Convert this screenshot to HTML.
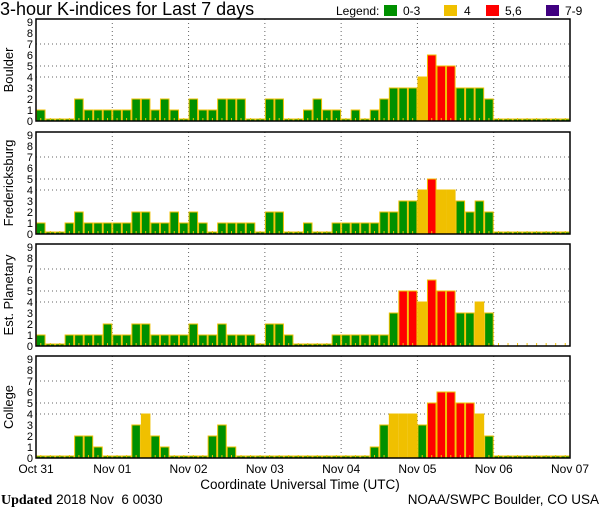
<!DOCTYPE html>
<html><head><meta charset="utf-8">
<style>
html,body{margin:0;padding:0;background:#fff;}
svg{display:block;font-family:"Liberation Sans",sans-serif;}
</style></head>
<body>
<svg id="chart" width="600" height="510" viewBox="0 0 600 510" xmlns="http://www.w3.org/2000/svg">
<text x="0" y="15" font-size="18" fill="#000">3-hour K-indices for Last 7 days</text>
<g font-size="12">
<text x="336" y="15">Legend:</text>
<rect x="384" y="5" width="13" height="11" fill="#009000"/><text x="403" y="15">0-3</text>
<rect x="444" y="5" width="13" height="11" fill="#f0c000"/><text x="464" y="15">4</text>
<rect x="486" y="5" width="13" height="11" fill="#ff0000"/><text x="505" y="15">5,6</text>
<rect x="546" y="5" width="13" height="11" fill="#400080"/><text x="565" y="15">7-9</text>
</g>
<g id="panels"></g>
<g id="xaxis" font-size="12"></g>
<text x="300" y="489" text-anchor="middle" font-size="13.5">Coordinate Universal Time (UTC)</text>
<text x="1" y="504" font-size="14" font-family="Liberation Serif,serif"><tspan font-weight="bold">Updated</tspan><tspan font-family="Liberation Sans,sans-serif" font-size="13.5"> 2018 Nov &#160;6 0030</tspan></text>
<text x="599" y="504" text-anchor="end" font-size="13.5">NOAA/SWPC Boulder, CO USA</text>
</svg>
<script>
const stations = ["Boulder","Fredericksburg","Est. Planetary","College"];
const boulder = [1,0,0,0,2,1,1,1, 1,1,2,2,1,2,1,0, 2,1,1,2,2,2,0,0, 2,2,0,0,1,2,1,1, 0,1,0,1,2,3,3,3, 4,6,5,5,3,3,3,2, 0,0,0,0,0,0,0,0];
const fredericksburg = [1,0,0,1,2,1,1,1, 1,1,2,2,1,1,2,1, 2,1,0,1,1,1,1,0, 2,2,0,0,1,0,0,1, 1,1,1,1,2,2,3,3, 4,5,4,4,3,2,3,2, 0,0,0,0,0,0,0,0];
const planetary = [1,0,0,1,1,1,1,2, 1,1,2,2,1,1,1,1, 2,1,1,2,1,1,1,0, 2,2,1,0,0,0,0,1, 1,1,1,1,1,3,5,5, 4,6,5,5,3,3,4,3, null,null,null,null,null,null,null,null];
const college = [0,0,0,0,2,2,1,0, 0,0,3,4,2,1,0,0, 0,0,2,3,1,0,0,0, 0,0,0,0,0,0,0,0, 0,0,0,1,3,4,4,4, 3,5,6,6,5,5,4,2, 0,0,0,0,0,0,0,0];
const seriesList = [boulder, fredericksburg, planetary, college];
const dayLabels = ["Oct 31","Nov 01","Nov 02","Nov 03","Nov 04","Nov 05","Nov 06","Nov 07"];
const yTicks = [0,1,2,3,4,5,6,7,8,9];
const gridLevels = [4,5,7];

const NS="http://www.w3.org/2000/svg";
const X0=36, X1=570, N=56, UNIT=11;
const panelBottoms=[121,234,346,458];
const xScale = i => X0 + i*(X1-X0)/N;
function mk(tag, attrs, parent){const e=document.createElementNS(NS,tag);for(const k in attrs)e.setAttribute(k,attrs[k]);parent.appendChild(e);return e;}
function color(v){return v<=3?"#009000":v===4?"#f0c000":v<=6?"#ff0000":"#400080";}
const panels=document.getElementById("panels");
seriesList.forEach((data,p)=>{
  const yb=panelBottoms[p], yt=yb-102;
  const yScale = v => yb - v*UNIT;
  const g=mk("g",{},panels);
  
  
  gridLevels.forEach(v=>{mk("line",{x1:X0,x2:X1,y1:yScale(v),y2:yScale(v),stroke:"#666","stroke-dasharray":"1,3"},g);});
  for(let d=1;d<7;d++){mk("line",{x1:xScale(d*8),x2:xScale(d*8),y1:yt,y2:yb,stroke:"#666","stroke-dasharray":"1,3"},g);}
  data.forEach((v,i)=>{
    const xa=xScale(i), w=(X1-X0)/N;
    if(v!==null){
      const h=v===0?2:v*UNIT;
      const r=mk("rect",{x:xa+0.5,y:yb-h,width:w-1,height:h,fill:color(v),stroke:"#f0c000","stroke-width":1},g);
      
      
    }
    mk("line",{x1:xa+w/2,x2:xa+w/2,y1:yb-3,y2:yb,stroke:"#f0c000","stroke-width":1},g);
  });
  mk("rect",{x:X0,y:yt,width:X1-X0,height:102,fill:"none",stroke:"#000","stroke-width":1.5},g);
  yTicks.forEach(t=>{const tx=mk("text",{x:33,y:yScale(t)+4,"text-anchor":"end","font-size":"11"},g);tx.textContent=t;});
  const lab=mk("text",{x:0,y:0,"text-anchor":"middle","font-size":"13",transform:`translate(13,${yt+51}) rotate(-90)`},g);
  lab.textContent=stations[p];
  
  
});
const xa=document.getElementById("xaxis");
dayLabels.forEach((d,k)=>{
  const t=mk("text",{x:xScale(k*8),y:473,"text-anchor":"middle"},xa);
  t.textContent=d;
  
  
});
</script>
</body></html>
